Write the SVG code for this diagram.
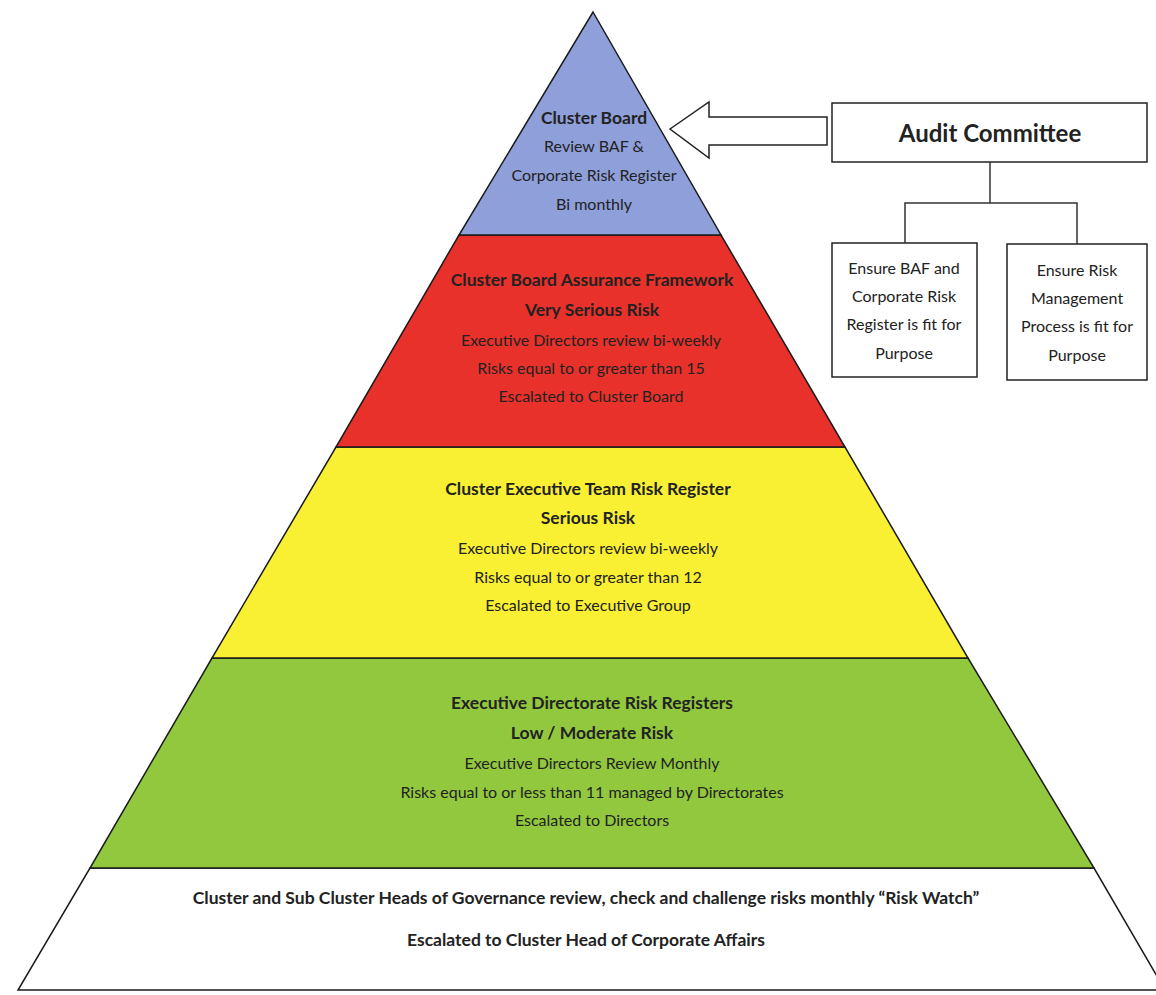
<svg xmlns="http://www.w3.org/2000/svg" width="1156" height="995" viewBox="0 0 1156 995">
<style>
  .band { stroke: #1a1a1a; stroke-width: 1.5; }
  .t { font-family: Lato, "Liberation Sans", sans-serif; font-size: 16px; fill: #222; text-anchor: middle; }
  .b { font-weight: bold; font-size: 17.5px; }
  .box { fill: #fff; stroke: #222; stroke-width: 1.5; }
  .conn { fill: none; stroke: #333; stroke-width: 1.5; }
</style>
<rect width="1156" height="995" fill="#fff"/>
<g id="level-white">
  <polygon class="band" fill="#ffffff" points="90,868 1094,868 1165,990 18,990"/>
  <text class="t b" x="586" y="904">Cluster and Sub Cluster Heads of Governance review, check and challenge risks monthly “Risk Watch”</text>
  <text class="t b" x="586" y="946">Escalated to Cluster Head of Corporate Affairs</text>
</g>
<g id="level-green">
  <polygon class="band" fill="#92c83e" points="212,658 968,658 1094,868 90,868"/>
  <text class="t b" x="592" y="709">Executive Directorate Risk Registers</text>
  <text class="t b" x="592" y="739">Low / Moderate Risk</text>
  <text class="t" x="592" y="769">Executive Directors Review Monthly</text>
  <text class="t" x="592" y="798">Risks equal to or less than 11 managed by Directorates</text>
  <text class="t" x="592" y="826">Escalated to Directors</text>
</g>
<g id="level-yellow">
  <polygon class="band" fill="#f9f033" points="336,447 845,447 968,658 212,658"/>
  <text class="t b" x="588" y="495">Cluster Executive Team Risk Register</text>
  <text class="t b" x="588" y="524">Serious Risk</text>
  <text class="t" x="588" y="554">Executive Directors review bi-weekly</text>
  <text class="t" x="588" y="583">Risks equal to or greater than 12</text>
  <text class="t" x="588" y="611">Escalated to Executive Group</text>
</g>
<g id="level-red">
  <polygon class="band" fill="#e8312a" points="459,235 721,235 845,447 336,447"/>
  <text class="t b" x="592" y="286">Cluster Board Assurance Framework</text>
  <text class="t b" x="592" y="316">Very Serious Risk</text>
  <text class="t" x="591" y="346">Executive Directors review bi-weekly</text>
  <text class="t" x="591" y="374">Risks equal to or greater than 15</text>
  <text class="t" x="591" y="402">Escalated to Cluster Board</text>
</g>
<g id="level-blue">
  <polygon class="band" fill="#8e9fda" points="593,12 721,235 459,235"/>
  <text class="t b" x="594" y="124">Cluster Board</text>
  <text class="t" x="594" y="152">Review BAF &amp;</text>
  <text class="t" x="594" y="181">Corporate Risk Register</text>
  <text class="t" x="594" y="210">Bi monthly</text>
</g>
<g id="audit-committee">
  <rect class="box" x="832" y="103" width="315" height="59"/>
  <text class="t" x="990" y="142" style="font-size:24px;font-weight:bold">Audit Committee</text>
</g>
<g id="ensure-baf">
  <rect class="box" x="832" y="243" width="145" height="134"/>
  <text class="t" x="904" y="274">Ensure BAF and</text>
  <text class="t" x="904" y="302">Corporate Risk</text>
  <text class="t" x="904" y="330">Register is fit for</text>
  <text class="t" x="904" y="359">Purpose</text>
</g>
<g id="ensure-process">
  <rect class="box" x="1007" y="244" width="140" height="136"/>
  <text class="t" x="1077" y="276">Ensure Risk</text>
  <text class="t" x="1077" y="304">Management</text>
  <text class="t" x="1077" y="332">Process is fit for</text>
  <text class="t" x="1077" y="361">Purpose</text>
</g>
<g id="connectors">
  <polygon class="box" points="670,129 709,102 709,117 827,117 827,145 709,145 709,158"/>
  <polyline class="conn" points="990,162 990,203"/>
  <polyline class="conn" points="905,243 905,203 1077,203 1077,244"/>
</g>
</svg>
